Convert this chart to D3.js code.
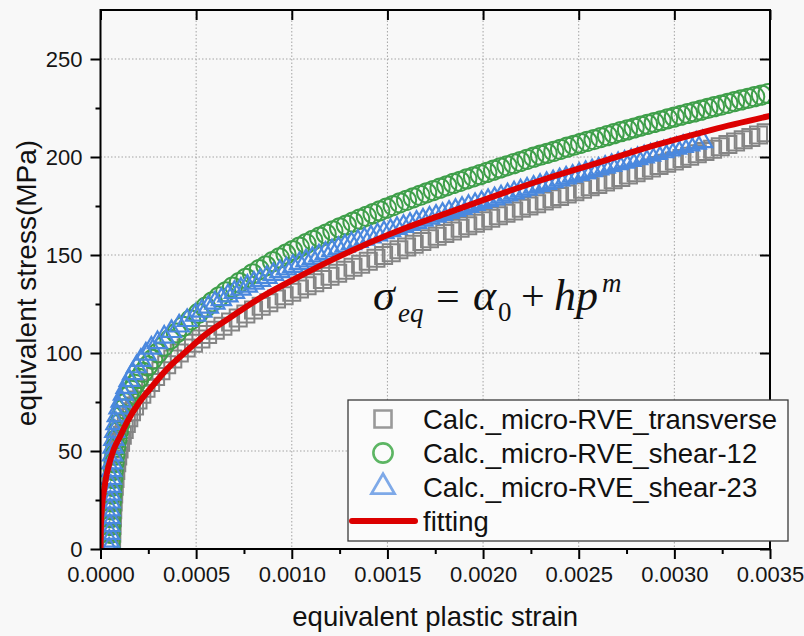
<!DOCTYPE html>
<html>
<head>
<meta charset="utf-8">
<script src="https://cdn.jsdelivr.net/npm/d3@7"></script>
<style>
  html, body { margin: 0; padding: 0; background: #f8f8f8; }
  svg { display: block; }
</style>
</head>
<body>
<svg id="chart" width="804" height="636"></svg>
<script>
// ---- axis ticks ----
const xTicks = [0, 0.0005, 0.0010, 0.0015, 0.0020, 0.0025, 0.0030, 0.0035];
const xMinorTicks = [0.00025, 0.00075, 0.00125, 0.00175, 0.00225, 0.00275, 0.00325];
const yTicks = [0, 50, 100, 150, 200, 250];
const yMinorTicks = [25, 75, 125, 175, 225];

const seriesNames = ["Calc._micro-RVE_transverse", "Calc._micro-RVE_shear-12", "Calc._micro-RVE_shear-23", "fitting"];
const xTitle = "equivalent plastic strain";
const yTitle = "equivalent stress(MPa)";

// ---- series: [equivalent plastic strain, equivalent stress (MPa)] ----
const transverse = [
  [0.000057,0],[0.000058,4],[0.000059,8],[0.00006,12],[0.000062,16],[0.000064,20],[0.000066,24],[0.000069,28],
  [0.000072,32],[0.000076,36],[0.00008,40],[0.000085,44],[0.00009,47.5],[0.000097,51],[0.000105,54.5],[0.000114,58],
  [0.000124,61],[0.000135,64],[0.000148,67],[0.000162,70],[0.000178,73],[0.000196,76],[0.000216,79],[0.000238,82],
  [0.000262,85],[0.000288,88],[0.000316,91],[0.000346,94],[0.000378,97],[0.000412,100],[0.000448,102.6],[0.000486,105],
  [0.000525,107.2],
  [0.00056,109.4],[0.0006,111.6],[0.00064,113.7],[0.00068,115.8],[0.00072,117.9],[0.00076,119.9],[0.0008,121.9],
  [0.00084,123.8],[0.00088,125.7],[0.00092,127.5],[0.00096,129.2],[0.001,131],[0.00104,132.6],[0.00108,134.3],
  [0.00112,135.9],[0.00116,137.5],[0.0012,139.1],[0.00124,140.7],[0.00128,142.2],[0.00132,143.8],[0.00136,145.3],
  [0.0014,146.8],[0.00144,148.3],[0.00148,149.8],[0.00152,151.2],[0.00156,152.7],[0.0016,154.1],[0.00164,155.5],
  [0.00168,156.9],[0.00172,158.3],[0.00176,159.6],[0.0018,161],[0.00184,162.3],[0.00188,163.6],[0.00192,164.9],
  [0.00196,166.2],[0.002,167.5],[0.00204,168.8],[0.00208,170],[0.00212,171.3],[0.00216,172.5],[0.0022,173.8],
  [0.00224,175],[0.00228,176.2],[0.00232,177.5],[0.00236,178.7],[0.0024,179.9],[0.00244,181.1],[0.00248,182.3],
  [0.00252,183.6],[0.00256,184.8],[0.0026,186],[0.00264,187.2],[0.00268,188.4],[0.00272,189.6],[0.00276,190.8],
  [0.0028,192],[0.00284,193.2],[0.00288,194.4],[0.00292,195.6],[0.00296,196.8],[0.003,198],[0.00304,199.2],
  [0.00308,200.4],[0.00312,201.6],[0.00316,202.8],[0.0032,204],[0.00324,205.2],[0.00328,206.4],[0.00332,207.6],
  [0.00336,208.8],[0.0034,210],[0.00344,211.2],[0.00348,212.4]
];

const shear12 = [
  [0.00005,0],[0.000051,4],[0.000052,8],[0.000053,12],[0.000054,16],[0.000055,20],[0.000057,24],[0.000059,28],
  [0.000061,32],[0.000064,36],[0.000067,40],[0.000071,44],[0.000075,48],[0.00008,52],[0.000086,56],[0.000093,60],
  [0.000101,64],[0.00011,68],[0.000121,71.5],[0.000133,74.5],[0.000147,78],[0.000163,81],[0.000181,84],[0.000201,87],
  [0.000223,90.1],[0.000247,93.4],[0.000273,96.8],[0.000301,100.1],[0.000331,103.5],[0.000363,106.9],[0.000397,110.2],
  [0.000433,113.6],[0.000471,116.9],[0.000511,120.2],
  [0.00055,123.4],[0.000585,126.1],[0.00062,128.7],[0.000655,131.2],[0.00069,133.6],[0.000725,135.9],[0.00076,138.1],
  [0.000795,140.4],[0.00083,142.5],[0.000865,144.5],[0.0009,146.6],[0.000935,148.5],[0.00097,150.4],[0.001005,152.3],
  [0.00104,154],[0.001075,155.8],[0.00111,157.5],[0.001145,159.1],[0.00118,160.7],[0.001215,162.3],[0.00125,163.8],
  [0.001285,165.3],[0.00132,166.8],[0.001355,168.3],[0.00139,169.7],[0.001425,171.1],[0.00146,172.5],[0.001495,173.9],
  [0.00153,175.2],[0.001565,176.6],[0.0016,177.9],[0.001635,179.2],[0.00167,180.4],[0.001705,181.7],[0.00174,182.9],
  [0.001775,184.1],[0.00181,185.3],[0.001845,186.5],[0.00188,187.6],[0.001915,188.8],[0.00195,189.9],[0.001985,191],
  [0.00202,192.1],[0.002055,193.3],[0.00209,194.4],[0.002125,195.5],[0.00216,196.6],[0.002195,197.7],[0.00223,198.8],
  [0.002265,199.9],[0.0023,200.9],[0.002335,201.9],[0.00237,202.9],[0.002405,203.9],[0.00244,205],[0.002475,206],
  [0.00251,207],[0.002545,208],[0.00258,208.9],[0.002615,209.9],[0.00265,210.9],[0.002685,211.9],[0.00272,212.9],
  [0.002755,213.8],[0.00279,214.8],[0.002825,215.8],[0.00286,216.7],[0.002895,217.6],[0.00293,218.5],[0.002965,219.5],
  [0.003,220.4],[0.003035,221.3],[0.00307,222.2],[0.003105,223],[0.00314,223.9],[0.003175,224.8],[0.00321,225.7],
  [0.003245,226.5],[0.00328,227.4],[0.003315,228.3],[0.00335,229.1],[0.003385,229.9],[0.00342,230.8],[0.003455,231.6],
  [0.00349,232.4]
];

const shear23 = [
  [0.000045,0],[0.000046,4],[0.000047,8],[0.000048,12],[0.000049,16],[0.00005,20],[0.000051,24],[0.000052,28],
  [0.000054,32],[0.000056,36],[0.000058,40],[0.00006,44],[0.000063,48],[0.000066,52],[0.00007,56],[0.000075,60],
  [0.000081,64],[0.000088,68],[0.000097,72],[0.000108,75.5],[0.00012,79],[0.000134,82.5],[0.00015,86],[0.000168,89.5],
  [0.000188,93],[0.000211,96.3],[0.000237,99.5],[0.000266,102.5],[0.000298,105.3],[0.000333,108.1],[0.000371,111],
  [0.000411,113.8],[0.000453,116.6],[0.000497,119.4],
  [0.00053,121.4],[0.000564,123.4],[0.000598,125.5],[0.000632,127.3],[0.000666,129.2],[0.0007,131],[0.000734,132.6],
  [0.000768,134.1],[0.000802,135.7],[0.000836,137.1],[0.00087,138.6],[0.000904,140.1],[0.000938,141.5],[0.000972,142.9],
  [0.001006,144.2],[0.00104,145.6],[0.001074,147],[0.001108,148.3],[0.001142,149.6],[0.001176,150.9],[0.00121,152.2],
  [0.001244,153.4],[0.001278,154.6],[0.001312,155.8],[0.001346,157],[0.00138,158.1],[0.001414,159.2],[0.001448,160.3],
  [0.001482,161.4],[0.001516,162.5],[0.00155,163.6],[0.001584,164.6],[0.001618,165.7],[0.001652,166.7],[0.001686,167.8],
  [0.00172,168.8],[0.001754,169.8],[0.001788,170.8],[0.001822,171.8],[0.001856,172.8],[0.00189,173.8],[0.001924,174.8],
  [0.001958,175.8],[0.001992,176.8],[0.002026,177.8],[0.00206,178.7],[0.002094,179.7],[0.002128,180.7],[0.002162,181.7],
  [0.002196,182.7],[0.00223,183.6],[0.002264,184.6],[0.002298,185.5],[0.002332,186.5],[0.002366,187.4],[0.0024,188.4],
  [0.002434,189.3],[0.002468,190.2],[0.002502,191.2],[0.002536,192.1],[0.00257,193],[0.002604,193.9],[0.002638,194.8],
  [0.002672,195.7],[0.002706,196.6],[0.00274,197.4],[0.002774,198.3],[0.002808,199.2],[0.002842,200.1],[0.002876,201],
  [0.00291,201.9],[0.002944,202.7],[0.002978,203.6],[0.003012,204.5],[0.003046,205.4],[0.00308,206.2],[0.003114,207.1],
  [0.003148,207.9]
];

const fitting = [
  [0,0],[0.000002,12],[0.000005,18],[0.00001,24],[0.00002,31],[0.00003,37],[0.00005,45],[0.00007,51],
  [0.0001,57],[0.00014,65],[0.0002,74.5],[0.00027,83],[0.00035,92],[0.00045,101],[0.00055,109.5],[0.0007,119.5],
  [0.00085,129],[0.001,137],[0.0012,147],[0.0014,156],[0.0016,164],[0.0018,171],[0.002,178],[0.0023,188],
  [0.0026,197],[0.0029,206],[0.0032,214],[0.0035,221]
];

// ---- layout ----
const W = 804, H = 636;
const plot = { left: 100.5, right: 770, top: 10, bottom: 549 };
const sans = "'Liberation Sans', Arial, Helvetica, sans-serif";
const serif = "'Liberation Serif', 'Times New Roman', Times, serif";
const colors = { transverse: "#858585", shear12: "#3f9f4a", shear23: "#4a88de", fitting: "#dc0000" };

const x = d3.scaleLinear().domain([0, 0.0035]).range([plot.left, plot.right]);
const y = d3.scaleLinear().domain([0, 275]).range([plot.bottom, plot.top]);

const svg = d3.select("#chart");
svg.append("rect").attr("width", W).attr("height", H).attr("fill", "#f8f8f8");

svg.append("clipPath").attr("id", "plot-clip")
  .append("rect")
  .attr("x", plot.left).attr("y", plot.top)
  .attr("width", plot.right - plot.left).attr("height", plot.bottom - plot.top);

// ---- dotted grid ----
const grid = svg.append("g").attr("stroke", "#a4a4a4").attr("stroke-width", 1).attr("stroke-dasharray", "1.5,2");
grid.selectAll("line.gx").data(xTicks.slice(1, -1)).join("line").attr("class", "gx")
  .attr("x1", d => x(d)).attr("x2", d => x(d)).attr("y1", plot.top).attr("y2", plot.bottom);
grid.selectAll("line.gy").data(yTicks.slice(1)).join("line").attr("class", "gy")
  .attr("y1", d => y(d)).attr("y2", d => y(d)).attr("x1", plot.left).attr("x2", plot.right);

// ---- data marks ----
const marks = svg.append("g").attr("clip-path", "url(#plot-clip)");
const symSquare = d3.symbol().type(d3.symbolSquare).size(289);
const symCircle = d3.symbol().type(d3.symbolCircle).size(290);
const symTriangle = d3.symbol().type(d3.symbolTriangle).size(160);

function drawMarkers(data, sym, color, width) {
  marks.append("g")
    .selectAll("path").data(data).join("path")
    .attr("d", sym)
    .attr("transform", d => `translate(${x(d[0])},${y(d[1])})`)
    .attr("fill", "none").attr("stroke", color).attr("stroke-width", width);
}
drawMarkers(transverse, symSquare, colors.transverse, 2);
drawMarkers(shear12, symCircle, colors.shear12, 2);
drawMarkers(shear23, symTriangle, colors.shear23, 2.2);

marks.append("path")
  .datum(fitting)
  .attr("d", d3.line().x(d => x(d[0])).y(d => y(d[1])).curve(d3.curveMonotoneX))
  .attr("fill", "none").attr("stroke", colors.fitting).attr("stroke-width", 6)
  .attr("stroke-linecap", "round").attr("stroke-linejoin", "round");

// ---- axes ----
function styleAxis(g) {
  g.select(".domain").remove();
  g.selectAll(".tick line").attr("stroke", "#000").attr("stroke-width", 2);
  g.selectAll(".tick text").attr("font-family", sans).attr("font-size", 22).attr("fill", "#151515");
}
svg.append("g").attr("transform", `translate(0,${plot.bottom})`)
  .call(d3.axisBottom(x).tickValues(xTicks).tickFormat(d3.format(".4f")).tickSize(10).tickPadding(7))
  .call(styleAxis);
svg.append("g").attr("transform", `translate(0,${plot.bottom})`)
  .call(d3.axisBottom(x).tickValues(xMinorTicks).tickFormat("").tickSize(5))
  .call(styleAxis);
svg.append("g").attr("transform", `translate(${plot.left},0)`)
  .call(d3.axisLeft(y).tickValues(yTicks).tickFormat(d3.format("d")).tickSize(10).tickPadding(8))
  .call(styleAxis);
svg.append("g").attr("transform", `translate(${plot.left},0)`)
  .call(d3.axisLeft(y).tickValues(yMinorTicks).tickFormat("").tickSize(5))
  .call(styleAxis);
svg.append("g").attr("transform", `translate(0,${plot.top})`)
  .call(d3.axisTop(x).tickValues(xTicks).tickFormat("").tickSize(-10))
  .call(styleAxis);
svg.append("g").attr("transform", `translate(${plot.right},0)`)
  .call(d3.axisRight(y).tickValues(yTicks).tickFormat("").tickSize(-10))
  .call(styleAxis);

// frame
svg.append("rect")
  .attr("x", plot.left).attr("y", plot.top)
  .attr("width", plot.right - plot.left).attr("height", plot.bottom - plot.top)
  .attr("fill", "none").attr("stroke", "#000").attr("stroke-width", 2);

// ---- axis titles ----
svg.append("text")
  .attr("x", (plot.left + plot.right) / 2).attr("y", 626)
  .attr("text-anchor", "middle").attr("font-family", sans).attr("font-size", 27.5).attr("fill", "#111")
  .text(xTitle);
svg.append("text")
  .attr("transform", "translate(36,283) rotate(-90)")
  .attr("text-anchor", "middle").attr("font-family", sans).attr("font-size", 28).attr("fill", "#111")
  .text(yTitle);

// ---- constitutive law annotation ----
const eq = svg.append("text").attr("font-family", serif).attr("fill", "#111");
const eqParts = [
  { t: "\u03C3", x: 373, y: 310, s: 44, i: true },
  { t: "eq", x: 398, y: 322, s: 27, i: true },
  { t: "=", x: 436, y: 310, s: 42, i: false },
  { t: "\u03B1", x: 473, y: 310, s: 44, i: true },
  { t: "0", x: 498, y: 321, s: 27, i: false },
  { t: "+", x: 521, y: 310, s: 42, i: false },
  { t: "hp", x: 554, y: 310, s: 44, i: true },
  { t: "m", x: 602, y: 292, s: 27, i: true }
];
eq.selectAll("tspan").data(eqParts).join("tspan")
  .attr("x", d => d.x).attr("y", d => d.y)
  .attr("font-size", d => d.s).attr("font-style", d => d.i ? "italic" : "normal")
  .text(d => d.t);

// ---- legend ----
const legend = svg.append("g");
legend.append("rect")
  .attr("x", 348).attr("y", 400).attr("width", 440).attr("height", 141)
  .attr("fill", "#fbfbfb").attr("stroke", "#3a3a3a").attr("stroke-width", 1.3);
const rowY = [419, 453, 487, 521];
const legendSyms = [
  { sym: symSquare, color: "#999999", w: 2.6 },
  { sym: symCircle, color: "#5cb563", w: 2.6 },
  { sym: d3.symbol().type(d3.symbolTriangle).size(230), color: "#7ea9e8", w: 2.8 }
];
legendSyms.forEach((s, i) => {
  legend.append("path").attr("d", s.sym)
    .attr("transform", `translate(383,${rowY[i]})`)
    .attr("fill", "none").attr("stroke", s.color).attr("stroke-width", s.w);
});
legend.append("line")
  .attr("x1", 352).attr("x2", 415).attr("y1", rowY[3]).attr("y2", rowY[3])
  .attr("stroke", colors.fitting).attr("stroke-width", 6).attr("stroke-linecap", "round");
legend.selectAll("text.lbl").data(seriesNames).join("text").attr("class", "lbl")
  .attr("x", 423).attr("y", (d, i) => rowY[i] + 9.5)
  .attr("font-family", sans).attr("font-size", 27.5).attr("fill", "#111")
  .text(d => d);
</script>
</body>
</html>
